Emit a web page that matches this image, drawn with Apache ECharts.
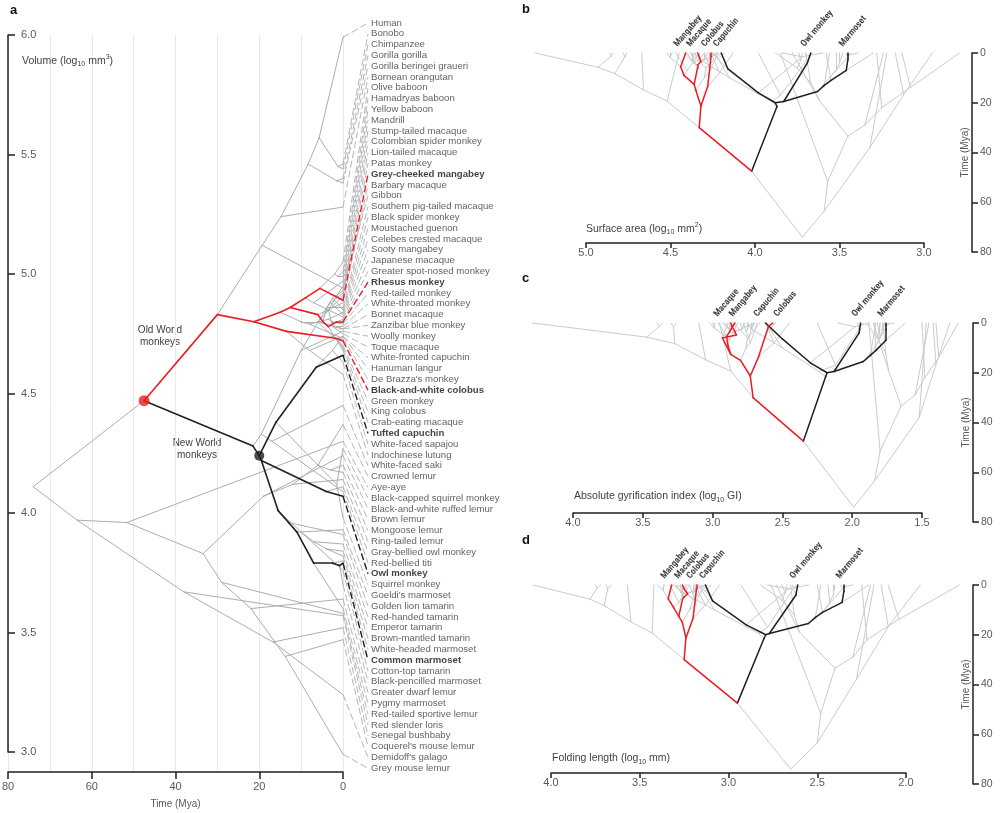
<!DOCTYPE html>
<html><head><meta charset="utf-8">
<script src="https://cdn.jsdelivr.net/npm/echarts@6/dist/echarts.min.js"></script>
<style>html,body{margin:0;padding:0;background:#fff}#chart{width:1000px;height:813px}</style>
</head><body><div id="chart"></div>
<script>
// ---------------- DATA ----------------
const species = ['Human','Bonobo','Chimpanzee','Gorilla gorilla','Gorilla beringei graueri','Bornean orangutan','Olive baboon','Hamadryas baboon','Yellow baboon','Mandrill','Stump-tailed macaque','Colombian spider monkey','Lion-tailed macaque','Patas monkey','Grey-cheeked mangabey','Barbary macaque','Gibbon','Southern pig-tailed macaque','Black spider monkey','Moustached guenon','Celebes crested macaque','Sooty mangabey','Japanese macaque','Greater spot-nosed monkey','Rhesus monkey','Red-tailed monkey','White-throated monkey','Bonnet macaque','Zanzibar blue monkey','Woolly monkey','Toque macaque','White-fronted capuchin','Hanuman langur',"De Brazza's monkey",'Black-and-white colobus','Green monkey','King colobus','Crab-eating macaque','Tufted capuchin','White-faced sapajou','Indochinese lutung','White-faced saki','Crowned lemur','Aye-aye','Black-capped squirrel monkey','Black-and-white ruffed lemur','Brown lemur','Mongoose lemur','Ring-tailed lemur','Gray-bellied owl monkey','Red-bellied titi','Owl monkey','Squirrel monkey',"Goeldi's marmoset",'Golden lion tamarin','Red-handed tamarin','Emperor tamarin','Brown-mantled tamarin','White-headed marmoset','Common marmoset','Cotton-top tamarin','Black-pencilled marmoset','Greater dwarf lemur','Pygmy marmoset','Red-tailed sportive lemur','Red slender loris','Senegal bushbaby',"Coquerel's mouse lemur","Demidoff's galago",'Grey mouse lemur'];
const tipParent = ['HOMI','PAN','PAN','GOR','GOR','HOMD','BAB','BAB2','BAB2','MANDCER','MACSIN','ATE2','MACSIL3','ERY','PAPLO','MACA','HOM','MACSIL2','ATE2','CEPH','MACSIL3','MANDCER','MACRJ','CEPH2','MACRJ','CEPH2','MIT','MACSIN2','MIT','ATE','MACSIN2','CAPU2','ASC','CERCO','AFC','ERY','AFC','MACFAS','CAPU','CAPU2','ASC','PITH','EUL','LEM','SAIM','LEMD','EUL2','EUL2','LEMD2','AOT','PITH','AOT','SAIM','CALL3','CALL2','SAG1','SAG2','SAG2','CALX','CALX2','SAG','CALX2','CHE','MARM','LEPCHE','LOR','GAL','MIC','GAL','MIC'];
const tipVolume = [5.99,5.46,5.44,5.40,5.38,5.28,5.05,5.01,4.99,4.97,4.95,4.93,4.92,4.91,4.89,4.88,4.94,4.86,4.85,4.84,4.83,4.82,4.81,4.80,4.80,4.79,4.78,4.77,4.77,4.76,4.75,4.74,4.74,4.73,4.72,4.70,4.69,4.68,4.66,4.63,4.58,4.45,4.37,4.30,4.27,4.24,4.20,4.17,4.14,4.11,4.09,4.07,3.98,3.93,3.91,3.87,3.84,3.82,3.80,3.79,3.76,3.70,3.64,3.60,3.58,3.57,3.52,3.47,3.24,2.99];
const tipSurface = [5.30,4.86,4.84,4.78,4.76,4.67,4.52,4.50,4.49,4.47,4.42,4.36,4.40,4.38,4.41,4.38,4.45,4.37,4.30,4.30,4.35,4.33,4.33,4.27,4.34,4.26,4.27,4.30,4.25,4.24,4.28,4.25,4.26,4.22,4.26,4.20,4.22,4.22,4.20,4.18,4.13,3.98,3.88,3.85,3.84,3.78,3.74,3.72,3.70,3.70,3.66,3.67,3.60,3.58,3.56,3.52,3.50,3.48,3.46,3.45,3.43,3.39,3.28,3.30,3.24,3.22,3.17,3.13,2.95,2.79];
const tipGyrification = [4.29,3.40,3.36,3.30,3.26,3.10,3.02,3.00,2.98,2.96,2.93,2.75,2.91,2.85,2.84,2.89,2.95,2.88,2.70,2.78,2.86,2.82,2.85,2.75,2.87,2.74,2.72,2.80,2.71,2.62,2.77,2.63,2.62,2.68,2.57,2.66,2.55,2.70,2.62,2.55,2.45,2.25,1.90,1.88,2.10,1.85,1.82,1.80,1.78,1.96,1.92,1.94,1.88,1.84,1.83,1.80,1.78,1.77,1.77,1.76,1.74,1.70,1.50,1.62,1.45,1.47,1.42,1.40,1.30,1.24];
const tipFolding = [4.10,3.75,3.72,3.69,3.66,3.57,3.40,3.37,3.36,3.33,3.31,3.30,3.29,3.28,3.32,3.27,3.42,3.26,3.24,3.22,3.24,3.22,3.23,3.19,3.26,3.18,3.18,3.20,3.17,3.17,3.18,3.16,3.19,3.14,3.18,3.12,3.15,3.13,3.13,3.10,3.05,2.93,2.82,2.76,2.78,2.73,2.70,2.67,2.65,2.64,2.62,2.61,2.55,2.50,2.48,2.44,2.41,2.40,2.37,2.35,2.34,2.30,2.25,2.21,2.20,2.18,2.14,2.10,1.92,1.70];

const nodeId = ['ROOT','ANTH','CAT','HOM','HOMD','HOMN','HOMI','PAN','GOR','CER','CERC','PAPI','PAPN','PAPLO','BAB','BAB2','MANDCER','MACA','MAC2','MACFAS','MACRJ','MACSIL','MACSIN','MACSIN2','MACSIL2','MACSIL3','CERCI','ERY','CERCO','CERC2','CEPH','CEPH2','MIT','COL','ASC','AFC','PLAT','ATPI','ATE','ATE2','PITH','CEBD','CEBN','CAPU','CAPU2','SAIM','AOCAL','AOT','CALL','CALL2','CALL3','MARM','CALX','CALX2','SAG','SAG1','SAG2','STR','LEM','LEM2','LEMD','LEMD2','EUL','EUL2','LEPCHE','CHE','MIC','LOR','GAL'];
const nodeParent = ['','ROOT','ANTH','CAT','HOM','HOMD','HOMN','HOMI','HOMN','CAT','CER','CERC','PAPI','PAPN','PAPLO','BAB','PAPN','PAPI','MACA','MAC2','MACFAS','MAC2','MACSIL','MACSIN','MACSIL','MACSIL2','CERC','CERCI','CERCI','CERCO','CERC2','CEPH','CERC2','CER','COL','COL','ANTH','PLAT','ATPI','ATE','ATPI','PLAT','CEBD','CEBN','CAPU','CEBN','CEBD','AOCAL','AOCAL','CALL','CALL2','CALL3','MARM','CALX','CALL','SAG','SAG1','ROOT','STR','LEM','LEM2','LEMD','LEMD2','EUL','LEM2','LEPCHE','CHE','STR','LOR'];
const nodeTime = [74,47.5,30,19.3,14.8,8.3,5.7,1.2,1.5,21.3,15,12.6,9,5.5,2,1.2,7,6,4.8,3.5,1.5,4.2,3.5,2.5,3.8,3,10,6,8,6,3.5,2.5,1.5,13.5,8,1.4,21.5,19.5,10,2.5,17,20,16,6.4,2.5,1.5,19.5,4,15.5,13,11,7,2.5,0.8,10,7,4,63.5,51.6,33.4,19,12,6,3,29,22,13.8,38,16.7];
const nodeVolume = [4.11,4.47,4.83,5.12,5.24,5.46,5.57,5.45,5.39,4.80,4.84,4.86,4.90,4.94,5.00,4.99,4.88,4.83,4.80,4.78,4.80,4.84,4.85,4.78,4.86,4.88,4.80,4.80,4.79,4.80,4.81,4.80,4.78,4.76,4.68,4.73,4.28,4.33,4.68,4.90,4.30,4.24,4.38,4.61,4.68,4.12,4.22,4.09,4.01,3.96,3.92,3.79,3.79,3.78,3.92,3.88,3.85,3.97,3.96,3.83,4.07,4.12,4.20,4.18,3.71,3.60,3.40,3.67,3.46];
const nodeSurface = [3.72,4.02,4.33,4.52,4.66,4.83,4.93,4.85,4.77,4.32,4.35,4.36,4.42,4.44,4.50,4.50,4.40,4.34,4.34,4.32,4.33,4.36,4.36,4.30,4.37,4.38,4.30,4.29,4.27,4.27,4.28,4.27,4.26,4.28,4.21,4.26,3.87,3.90,4.15,4.33,3.85,3.88,3.98,4.16,4.22,3.72,3.83,3.69,3.63,3.59,3.55,3.46,3.45,3.45,3.56,3.52,3.50,3.59,3.57,3.45,3.62,3.67,3.75,3.73,3.35,3.25,3.08,3.32,3.12];
const nodeGyrification = [1.99,2.35,2.71,2.87,3.05,3.27,3.47,3.38,3.28,2.73,2.80,2.87,2.89,2.90,2.99,2.99,2.88,2.93,2.83,2.84,2.86,2.85,2.85,2.79,2.87,2.88,2.76,2.75,2.73,2.74,2.76,2.75,2.72,2.67,2.56,2.60,2.19,2.24,2.50,2.72,2.12,2.18,2.30,2.50,2.59,1.98,2.13,1.95,1.92,1.87,1.83,1.76,1.76,1.76,1.84,1.81,1.79,1.84,1.80,1.65,1.74,1.76,1.82,1.81,1.55,1.48,1.38,1.52,1.40];
const nodeFolding = [2.65,2.95,3.25,3.43,3.55,3.70,3.78,3.74,3.68,3.24,3.26,3.28,3.31,3.34,3.37,3.37,3.28,3.26,3.25,3.23,3.25,3.26,3.25,3.20,3.26,3.27,3.22,3.20,3.19,3.19,3.20,3.19,3.18,3.20,3.13,3.18,2.80,2.83,3.08,3.27,2.78,2.79,2.90,3.09,3.13,2.66,2.77,2.62,2.55,2.51,2.47,2.36,2.35,2.35,2.46,2.43,2.41,2.50,2.48,2.40,2.60,2.63,2.70,2.68,2.30,2.22,2.04,2.28,2.10];

const boldSpecies = ['Grey-cheeked mangabey','Rhesus monkey','Black-and-white colobus','Tufted capuchin','Owl monkey','Common marmoset'];
const redSpecies = ['Grey-cheeked mangabey','Rhesus monkey','Black-and-white colobus'];
const blackSpecies = ['Tufted capuchin','Owl monkey','Common marmoset'];
const shortNames = ['Mangabey','Macaque','Colobus','Capuchin','Owl monkey','Marmoset'];
const shortSpecies = ['Grey-cheeked mangabey','Rhesus monkey','Black-and-white colobus','Tufted capuchin','Owl monkey','Common marmoset'];
const redDotNode = 'ANTH', blackDotNode = 'CEBD';

const timeRange = {min:0, max:80};
const volumeAxis = {min:3.0, max:6.0};
const surfaceAxis = {min:3.0, max:5.0};
const giAxis = {min:1.5, max:4.0};
const foldAxis = {min:2.0, max:4.0};

// ---------------- LAYOUT / STYLE ----------------
const FONT = "'Liberation Sans', Arial, Helvetica, sans-serif";
const NARROW = "'Liberation Sans Narrow', 'Roboto Condensed', 'Liberation Sans', Arial, sans-serif";
const GREY_A = '#abadb0', GREY_B = '#cacbcd', RED = '#ec1c24', BLACK = '#231f20';
const AX = '#231f20', TXT = '#58595b';
const A = {left: 8, top: 35, width: 335, height: 737, yMin: 2.9163, yMax: 6.0};
const LABEL_TOP = 23, LABEL_STEP = 10.8;
function pxToVolume(py){ return A.yMax - (py - A.top) * (A.yMax - A.yMin) / A.height; }
function pxToTime(px){ return (A.left + A.width - px) * 80 / A.width; }
// per-panel horizontal nudges (px) of the slanted tip labels, order as shortNames
const labelNudge = {b:[-6,-5,-4,-2,-4,-3], c:[0,-11,7,-6,-3,-2], d:[-5,-2,-4,0,-2,-2]};

// ---------------- TREE EDGES ----------------
const nodeIndex = {}; nodeId.forEach((id,i)=>nodeIndex[id]=i);
const nodeVals = i => [nodeVolume[i], nodeSurface[i], nodeGyrification[i], nodeFolding[i]];
const edges = [];
species.forEach((s,i)=>{
  edges.push({parent: tipParent[i], key: 'tip:'+s, t: 0, vals: [tipVolume[i], tipSurface[i], tipGyrification[i], tipFolding[i]]});
});
nodeId.forEach((id,i)=>{ if (nodeParent[i]) edges.push({parent: nodeParent[i], key: id, t: nodeTime[i], vals: nodeVals(i)}); });
function lineage(names){
  const set = new Set();
  names.forEach(n=>{ set.add('tip:'+n); let p = tipParent[species.indexOf(n)]; while(p){ set.add(p); p = nodeParent[nodeIndex[p]]; } });
  return set;
}
const redSet = lineage(redSpecies), blackSet = lineage(blackSpecies);
function edgeClass(e){ const r = redSet.has(e.key), b = blackSet.has(e.key); return (r && !b) ? 'red' : (b && !r) ? 'black' : 'grey'; }

function treeSeries(trait, xAxisIndex, yAxisIndex, transposed, grey, wGrey, wCol){
  const out = [];
  [['grey', grey, wGrey, 2], ['red', RED, wCol, 4], ['black', BLACK, wCol, 3]].forEach(([cls, color, w, z])=>{
    const data = edges.filter(e=>edgeClass(e)===cls).map(e=>{
      const pi = nodeIndex[e.parent];
      const p = [nodeTime[pi], nodeVals(pi)[trait]], c = [e.t, e.vals[trait]];
      return {coords: transposed ? [[p[1], p[0]], [c[1], c[0]]] : [p, c]};
    });
    out.push({type:'lines', coordinateSystem:'cartesian2d', xAxisIndex, yAxisIndex, polyline:false, clip:false, silent:true, z,
      lineStyle:{color, width:w, opacity:1, cap:'round', join:'round'}, data});
  });
  return out;
}

// ---------------- PANEL A extras ----------------
const CONNECTOR_T = pxToTime(368), LABEL_T = pxToTime(370.5);
const connectorSeries = [['grey', '#b3b5b8'], ['red', RED], ['black', BLACK]].map(([cls, color])=>{
  const data = [];
  species.forEach((s,i)=>{
    const c = redSpecies.includes(s) ? 'red' : blackSpecies.includes(s) ? 'black' : 'grey';
    if (c !== cls) return;
    data.push({coords: [[0, tipVolume[i]], [CONNECTOR_T, pxToVolume(LABEL_TOP + i*LABEL_STEP)]]});
  });
  return {type:'lines', coordinateSystem:'cartesian2d', xAxisIndex:0, yAxisIndex:0, clip:false, silent:true, z: cls==='grey'?1:5,
    lineStyle:{color, width: cls==='grey'?1:1.4, type:[7,3], opacity:1}, data};
});
const speciesLabelSeries = {
  type:'scatter', xAxisIndex:0, yAxisIndex:0, clip:false, silent:true, symbolSize:1, itemStyle:{color:'rgba(0,0,0,0)'}, z:6,
  data: species.map((s,i)=>({name:s, value:[LABEL_T, pxToVolume(LABEL_TOP + i*LABEL_STEP)]})),
  label:{show:true, position:'right', distance:0,
    formatter: p => boldSpecies.includes(p.name) ? '{b|'+p.name+'}' : '{n|'+p.name+'}',
    rich:{ n:{fontFamily:FONT, fontSize:9.6, color:'#3a3a3c'}, b:{fontFamily:FONT, fontSize:9.6, fontWeight:'bold', color:'#111'} } }
};
const dotSeries = [[redDotNode, RED, 11], [blackDotNode, BLACK, 10]].map(([id, color, size])=>({
  type:'scatter', xAxisIndex:0, yAxisIndex:0, clip:false, silent:true, z:8, symbolSize:size, itemStyle:{color},
  data:[[nodeTime[nodeIndex[id]], nodeVolume[nodeIndex[id]]]]
}));

// ---------------- PANELS B-D labels ----------------
function shortLabelSeries(tipArr, xAxisIndex, yAxisIndex, nudge){
  return {type:'scatter', xAxisIndex, yAxisIndex, clip:false, silent:true, symbolSize:1, itemStyle:{color:'rgba(0,0,0,0)'}, z:7,
    data: shortSpecies.map((s,k)=>({name: shortNames[k], value:[tipArr[species.indexOf(s)], 0],
      label:{position:[nudge[k], -4]}})),
    label:{show:true, rotate:50, align:'left', verticalAlign:'bottom',
      formatter: p => p.name, fontFamily:NARROW, fontWeight:'bold', fontSize:9.2, color:'#111'}};
}

// ---------------- AXES ----------------
const axisLine = {show:true, lineStyle:{color:AX, width:1.5}};
const f1 = v => v.toFixed(1);
const PB = {left:586, top:53, width:338, h:199, axisH:190};
const PC = {left:573, top:323, width:349, h:199, axisH:190};
const PD = {left:551, top:585, width:355, h:199, axisH:188};

const grids = [
  {left:A.left, top:A.top, width:A.width, height:A.height},
  {left:A.left, top:A.top, width:A.width, height:717},
  {left:PB.left, top:PB.top, width:PB.width, height:PB.h},
  {left:PB.left, top:PB.top, width:PB.width, height:PB.axisH},
  {left:PC.left, top:PC.top, width:PC.width, height:PC.h},
  {left:PC.left, top:PC.top, width:PC.width, height:PC.axisH},
  {left:PD.left, top:PD.top, width:PD.width, height:PD.h},
  {left:PD.left, top:PD.top, width:PD.width, height:PD.axisH}
].map(g=>Object.assign(g, {outerBoundsMode:'none', containLabel:false}));

function traitX(gridIndex, rng, visible){
  if (!visible) return {gridIndex, type:'value', min:rng.min, max:rng.max, inverse:true, show:false};
  return {gridIndex, type:'value', min:rng.min, max:rng.max, inverse:true, interval:0.5, position:'bottom',
    axisLine, axisTick:{show:true, length:5, lineStyle:{color:AX, width:1.5}},
    axisLabel:{color:TXT, fontSize:11, fontFamily:FONT, formatter:f1, margin:4}, splitLine:{show:false}};
}
const xAxes = [
  {gridIndex:0, type:'value', min:timeRange.min, max:timeRange.max, inverse:true, interval:20, position:'bottom',
    axisLine, axisTick:{show:true, length:7, lineStyle:{color:AX, width:1.5}},
    axisLabel:{color:TXT, fontSize:11, fontFamily:FONT, margin:9},
    splitLine:{show:false},
    name:'Time (Mya)', nameLocation:'middle', nameGap:27, nameTextStyle:{color:TXT, fontSize:10, fontFamily:FONT}},
  {gridIndex:0, type:'value', min:timeRange.min, max:timeRange.max, inverse:true, interval:10, position:'top',
    axisLine:{show:false}, axisTick:{show:false}, axisLabel:{show:false},
    splitLine:{show:true, lineStyle:{color:'#e9e9ea', width:1}}},
  {gridIndex:1, type:'value', min:timeRange.min, max:timeRange.max, show:false},
  traitX(2, surfaceAxis, false), traitX(3, surfaceAxis, true),
  traitX(4, giAxis, false), traitX(5, giAxis, true),
  traitX(6, foldAxis, false), traitX(7, foldAxis, true)
];
function timeYAxis(gridIndex, offset){
  return {gridIndex, type:'value', min:timeRange.min, max:timeRange.max, inverse:true, interval:20, position:'right', offset,
    axisLine, axisTick:{show:true, length:6, lineStyle:{color:AX, width:1.5}},
    axisLabel:{color:TXT, fontSize:10.5, fontFamily:FONT, margin:8}, splitLine:{show:false},
    name:'Time (Mya)', nameLocation:'middle', nameRotate:90, nameGap:-12, nameTextStyle:{color:TXT, fontSize:10, fontFamily:FONT}};
}
const yAxes = [
  {gridIndex:0, type:'value', min:A.yMin, max:A.yMax, show:false},
  {gridIndex:1, type:'value', min:volumeAxis.min, max:volumeAxis.max, interval:0.5, position:'left',
    axisLine, axisTick:{show:true, inside:true, length:7, lineStyle:{color:AX, width:1.5}},
    axisLabel:{inside:true, color:TXT, fontSize:11, fontFamily:FONT, formatter:f1, margin:13}, splitLine:{show:false}},
  timeYAxis(2, 48), {gridIndex:3, type:'value', min:0, max:1, show:false},
  timeYAxis(4, 51), {gridIndex:5, type:'value', min:0, max:1, show:false},
  timeYAxis(6, 67), {gridIndex:7, type:'value', min:0, max:1, show:false}
];

// ---------------- TEXTS ----------------
const richTitle = {
  n:{fontFamily:FONT, fontSize:10.5, fill:'#414042', lineHeight:14, verticalAlign:'middle'},
  sub:{fontFamily:FONT, fontSize:7, fill:'#414042', lineHeight:7, verticalAlign:'bottom'},
  sup:{fontFamily:FONT, fontSize:7, fill:'#414042', lineHeight:7, verticalAlign:'top'}
};
function titleText(x, y, text){ return {type:'text', left:x, top:y, style:{text, rich:richTitle, fill:'#414042', font:'10.5px '+FONT}, z:10}; }
const graphics = [
  {type:'text', left:10, top:4, style:{text:'a', font:'bold 13px '+FONT, fill:'#111'}},
  {type:'text', left:522, top:3, style:{text:'b', font:'bold 13px '+FONT, fill:'#111'}},
  {type:'text', left:522, top:272, style:{text:'c', font:'bold 13px '+FONT, fill:'#111'}},
  {type:'text', left:522, top:534, style:{text:'d', font:'bold 13px '+FONT, fill:'#111'}},
  titleText(22, 54, '{n|Volume (log}{sub|10}{n| mm}{sup|3}{n|)}'),
  titleText(586, 222, '{n|Surface area (log}{sub|10}{n| mm}{sup|2}{n|)}'),
  titleText(574, 491, '{n|Absolute gyrification index (log}{sub|10}{n| GI)}'),
  titleText(552, 753, '{n|Folding length (log}{sub|10}{n| mm)}'),
  {type:'text', x:160, y:324, style:{text:'Old World\nmonkeys', font:'10px '+FONT, fill:'#414042', align:'center', lineHeight:12}},
  {type:'text', x:197, y:437, style:{text:'New World\nmonkeys', font:'10px '+FONT, fill:'#414042', align:'center', lineHeight:12}}
];

// ---------------- CHART ----------------
const chart = echarts.init(document.getElementById('chart'), null, {renderer:'canvas'});
chart.setOption({
  animation:false,
  backgroundColor:'#fff',
  textStyle:{fontFamily:FONT},
  grid: grids, xAxis: xAxes, yAxis: yAxes,
  graphic: graphics,
  series: [
    ...treeSeries(0, 0, 0, false, GREY_A, 1, 1.6),
    ...connectorSeries,
    speciesLabelSeries,
    ...dotSeries,
    ...treeSeries(1, 3, 2, true, GREY_B, 1, 1.5),
    shortLabelSeries(tipSurface, 3, 2, labelNudge.b),
    ...treeSeries(2, 5, 4, true, GREY_B, 1, 1.5),
    shortLabelSeries(tipGyrification, 5, 4, labelNudge.c),
    ...treeSeries(3, 7, 6, true, GREY_B, 1, 1.5),
    shortLabelSeries(tipFolding, 7, 6, labelNudge.d)
  ]
});
</script>
</body></html>
